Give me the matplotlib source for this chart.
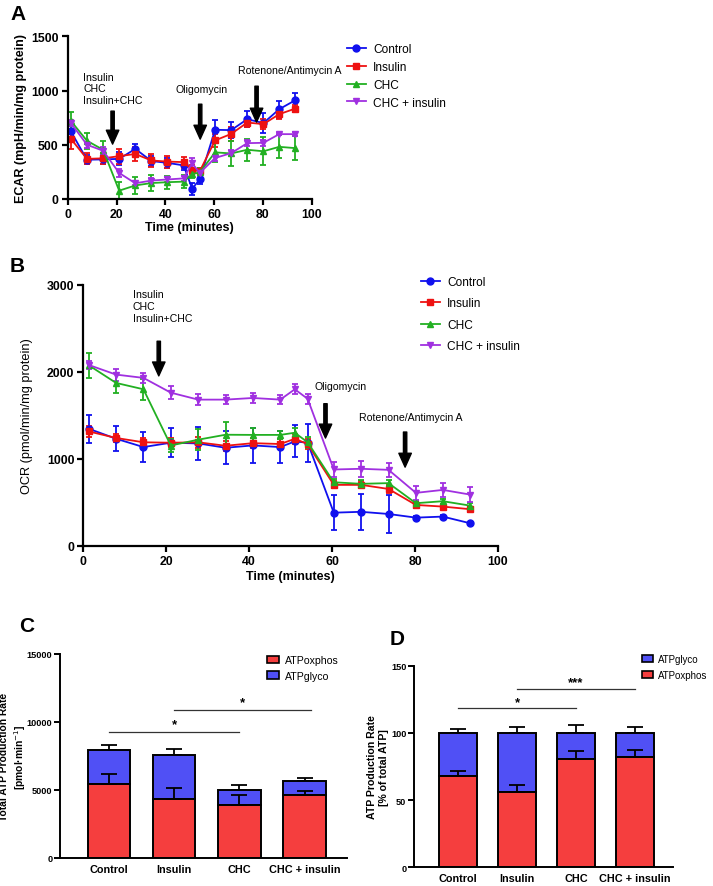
import matplotlib
matplotlib.use("Agg")
import matplotlib.pyplot as plt
from matplotlib.patches import Patch

plt.rcParams['font.family'] = ['Liberation Sans', 'DejaVu Sans']

# time points (minutes), shared by ECAR and OCR runs
time = [1.3, 7.9, 14.5, 21.1, 27.7, 34.3, 40.9, 47.5, 51.0, 54.1,
        60.4, 67.0, 73.6, 80.2, 86.7, 93.3]
groups = ["Control", "Insulin", "CHC", "CHC + insulin"]

# panel A - ECAR
ecar_control = [623, 362, 365, 370, 462, 350, 333, 310, 95, 180, 638, 635, 736, 700, 828, 911]
ecar_insulin = [555, 370, 375, 395, 415, 355, 345, 340, 270, 255, 540, 600, 705, 690, 782, 834]
ecar_chc = [720, 537, 454, 77, 125, 147, 155, 160, 230, 245, 430, 420, 454, 440, 481, 469]
ecar_chc_ins = [700, 500, 445, 240, 145, 170, 180, 190, 330, 240, 378, 423, 515, 518, 598, 598]
ecar_control_err = [50, 40, 40, 60, 45, 50, 45, 45, 55, 40, 90, 75, 75, 90, 80, 70]
ecar_insulin_err = [90, 50, 50, 70, 65, 60, 55, 50, 40, 30, 60, 65, 45, 45, 40, 35]
ecar_chc_err = [85, 75, 80, 80, 75, 70, 60, 60, 40, 40, 90, 115, 100, 130, 105, 110]
ecar_chc_ins_err = [30, 30, 30, 40, 20, 20, 20, 20, 45, 30, 30, 30, 30, 30, 12, 20]

# panel B - OCR
ocr_control = [1346, 1231, 1135, 1185, 1177, 1127, 1154, 1135, 1200, 1185, 380, 390, 365, 323, 335, 258]
ocr_insulin = [1315, 1240, 1190, 1185, 1190, 1150, 1180, 1170, 1230, 1170, 700, 700, 653, 469, 450, 420]
ocr_chc = [2077, 1873, 1800, 1153, 1220, 1277, 1275, 1275, 1300, 1190, 730, 712, 720, 489, 512, 461]
ocr_chc_ins = [2080, 1969, 1931, 1761, 1681, 1681, 1700, 1681, 1800, 1690, 877, 885, 873, 608, 642, 588]
ocr_control_err = [160, 146, 175, 170, 190, 190, 200, 180, 185, 220, 200, 210, 220, 20, 20, 15]
ocr_insulin_err = [60, 50, 50, 50, 60, 60, 60, 60, 60, 60, 40, 40, 50, 30, 30, 30]
ocr_chc_err = [146, 115, 123, 80, 120, 150, 80, 50, 60, 60, 40, 40, 40, 30, 30, 30]
ocr_chc_ins_err = [46, 70, 58, 77, 60, 50, 60, 50, 60, 60, 90, 90, 80, 80, 80, 90]

# panel C - total ATP production rate
atp_oxphos = [5441, 4314, 3922, 4632]
atp_oxphos_err = [690, 830, 740, 320]
atp_glyco = [2525, 3235, 1053, 1005]
atp_total_err = [340, 440, 390, 250]

# panel D - percent of total ATP
pct_oxphos = [68, 56, 80.3, 82.1]
pct_oxphos_err = [3.6, 5, 6, 5.5]
pct_glyco = [32, 44, 19.7, 17.9]
pct_total_err = [2.7, 4.5, 5.7, 4.5]

W, H = 713, 887
fig = plt.figure(figsize=(W / 100, H / 100), dpi=100)


def axes_px(left, top, right, bottom):
    return fig.add_axes([left / W, 1 - bottom / H, (right - left) / W, (bottom - top) / H])


def style(ax, lw=1.6, size=8.8):
    for s in ["top", "right"]:
        ax.spines[s].set_visible(False)
    for s in ["left", "bottom"]:
        ax.spines[s].set_linewidth(lw)
    ax.tick_params(width=lw, length=4, labelsize=size, pad=2.5)
    for lab in ax.get_xticklabels() + ax.get_yticklabels():
        lab.set_fontweight("bold")


line_colors = ["#1010ee", "#ee1111", "#22b022", "#a030e0"]
markers = ["o", "s", "^", "v"]


def timecourse(ax, series, errs):
    for y, e, c, m, g in zip(series, errs, line_colors, markers, groups):
        ax.errorbar(time, y, yerr=e, color=c, marker=m, markersize=5, lw=1.3,
                    elinewidth=1.3, capsize=2.5, capthick=1.3)
        ax.plot([], [], color=c, marker=m, markersize=5, lw=1.3, label=g)


def arrow(ax, x, y0, y1):
    ax.annotate("", xy=(x, y1), xytext=(x, y0),
                arrowprops=dict(width=2.4, headwidth=9, headlength=10, color="black"))


# ---- A
axA = axes_px(67.7, 37.3, 311.7, 200)
timecourse(axA, [ecar_control, ecar_insulin, ecar_chc, ecar_chc_ins],
           [ecar_control_err, ecar_insulin_err, ecar_chc_err, ecar_chc_ins_err])
axA.set_xlim(0, 100)
axA.set_ylim(0, 1500)
axA.set_xticks([0, 20, 40, 60, 80, 100])
axA.set_yticks([0, 500, 1000, 1500])
axA.set_xlabel("Time (minutes)", fontsize=9, fontweight="bold", labelpad=1)
axA.set_ylabel("ECAR (mpH/min/mg protein)", fontsize=9, fontweight="bold", labelpad=3)
style(axA)
axA.text(6.3, 1175, "Insulin\nCHC\nInsulin+CHC", fontsize=7.6, va="top", linespacing=1.2)
arrow(axA, 18.4, 810, 506)
axA.text(54.7, 1012, "Oligomycin", fontsize=7.6, ha="center", va="center")
arrow(axA, 54.3, 874, 552)
axA.text(70, 1187, "Rotenone/Antimycin A", fontsize=7.6, ha="left", va="center")
arrow(axA, 77.4, 1040, 709)
axA.legend(loc="upper left", bbox_to_anchor=(336 / W, 1 - 33 / H), bbox_transform=fig.transFigure,
           frameon=False, fontsize=8.6, handlelength=1.6, labelspacing=0.5, handletextpad=0.6)
fig.text(10 / W, 1 - 15 / H, "A", fontsize=15, fontweight="bold", va="center")

# ---- B
axB = axes_px(83.3, 286, 498, 546.7)
timecourse(axB, [ocr_control, ocr_insulin, ocr_chc, ocr_chc_ins],
           [ocr_control_err, ocr_insulin_err, ocr_chc_err, ocr_chc_ins_err])
axB.set_xlim(0, 100)
axB.set_ylim(0, 3000)
axB.set_xticks([0, 20, 40, 60, 80, 100])
axB.set_yticks([0, 1000, 2000, 3000])
axB.set_xlabel("Time (minutes)", fontsize=9, fontweight="bold", labelpad=2)
axB.set_ylabel("OCR (pmol/min/mg protein)", fontsize=9.2, labelpad=10)
style(axB)
axB.text(11.9, 2950, "Insulin\nCHC\nInsulin+CHC", fontsize=7.6, va="top", linespacing=1.25)
arrow(axB, 18.2, 2353, 1954)
axB.text(62.1, 1839, "Oligomycin", fontsize=7.6, ha="center", va="center")
arrow(axB, 58.4, 1634, 1239)
axB.text(78.9, 1481, "Rotenone/Antimycin A", fontsize=7.6, ha="center", va="center")
arrow(axB, 77.6, 1308, 904)
axB.legend(loc="upper left", bbox_to_anchor=(410 / W, 1 - 266 / H), bbox_transform=fig.transFigure,
           frameon=False, fontsize=8.6, handlelength=1.6, labelspacing=0.8, handletextpad=0.6)
fig.text(10 / W, 1 - 266 / H, "B", fontsize=15, fontweight="bold", va="center")

# ---- C / D stacked bars
red_bar = "#f53e3e"
blue_bar = "#5050f5"
xpos = list(range(len(groups)))


def stacked(ax, bottom_vals, bottom_err, top_vals, top_err, ylim, yticks):
    tops = [b + t for b, t in zip(bottom_vals, top_vals)]
    ax.bar(xpos, top_vals, bottom=bottom_vals, width=0.65, color=blue_bar, edgecolor="black", lw=1.4, zorder=2)
    ax.errorbar(xpos, tops, yerr=[[0] * 4, top_err], fmt="none", ecolor="black", elinewidth=1.3,
                capsize=6, capthick=1.3, zorder=1)
    ax.bar(xpos, bottom_vals, width=0.65, color=red_bar, edgecolor="black", lw=1.4, zorder=2)
    ax.errorbar(xpos, bottom_vals, yerr=[[0] * 4, bottom_err], fmt="none", ecolor="black", elinewidth=1.3,
                capsize=6, capthick=1.3, zorder=3)
    ax.set_xlim(-0.75, 3.65)
    ax.set_ylim(*ylim)
    ax.set_yticks(yticks)
    ax.set_xticks(xpos)
    ax.set_xticklabels(groups)
    style(ax, lw=1.4)
    ax.tick_params(axis="x", length=0, labelsize=7.8, pad=4)
    ax.tick_params(axis="y", labelsize=6.6, pad=1.5)
    for lab in ax.get_xticklabels() + ax.get_yticklabels():
        lab.set_fontweight("bold")


def sig(ax, x0, x1, y, label, off):
    ax.plot([x0, x1], [y, y], color="#333333", lw=0.9)
    ax.text((x0 + x1) / 2, y + off, label, ha="center", va="center", fontsize=9.5, fontweight="bold")


axC = axes_px(60, 654.7, 347, 859)
stacked(axC, atp_oxphos, atp_oxphos_err, atp_glyco, atp_total_err, (0, 15000), [0, 5000, 10000, 15000])
axC.set_ylabel("Total ATP Production Rate\n[pmol·min$^{-1}$]", fontsize=7.4, fontweight="bold",
               linespacing=1.25)
axC.yaxis.set_label_coords(-0.112, 0.5)
sig(axC, 0, 2, 9240, "*", 550)
sig(axC, 1, 3.1, 10880, "*", 550)
axC.legend(handles=[Patch(facecolor=red_bar, edgecolor="black", lw=1.2, label="ATPoxphos"),
                    Patch(facecolor=blue_bar, edgecolor="black", lw=1.2, label="ATPglyco")],
           loc="upper left", bbox_to_anchor=(265 / W, 1 - 654 / H), bbox_transform=fig.transFigure,
           frameon=False, fontsize=7.6, handlelength=1.1, handleheight=0.75, labelspacing=0.55,
           handletextpad=0.6, borderaxespad=0, borderpad=0.2)
fig.text(27 / W, 1 - 627 / H, "C", fontsize=15, fontweight="bold", va="center", ha="center")

axD = axes_px(414, 666.7, 673, 868.3)
stacked(axD, pct_oxphos, pct_oxphos_err, pct_glyco, pct_total_err, (0, 150), [0, 50, 100, 150])
axD.set_ylabel("ATP Production Rate\n[% of total ATP]", fontsize=7.6, fontweight="bold", linespacing=1.3)
axD.yaxis.set_label_coords(-0.095, 0.5)
sig(axD, 0, 2, 118.2, "*", 5)
sig(axD, 1, 3, 132.6, "***", 5)
axD.legend(handles=[Patch(facecolor=blue_bar, edgecolor="black", lw=1.2, label="ATPglyco"),
                    Patch(facecolor=red_bar, edgecolor="black", lw=1.2, label="ATPoxphos")],
           loc="upper left", bbox_to_anchor=(640 / W, 1 - 653 / H), bbox_transform=fig.transFigure,
           frameon=False, fontsize=7.0, handlelength=1.1, handleheight=0.8, labelspacing=0.6,
           handletextpad=0.5, borderaxespad=0, borderpad=0.2)
fig.text(397 / W, 1 - 640 / H, "D", fontsize=15, fontweight="bold", va="center", ha="center")

fig.savefig("out.png", dpi=100)
